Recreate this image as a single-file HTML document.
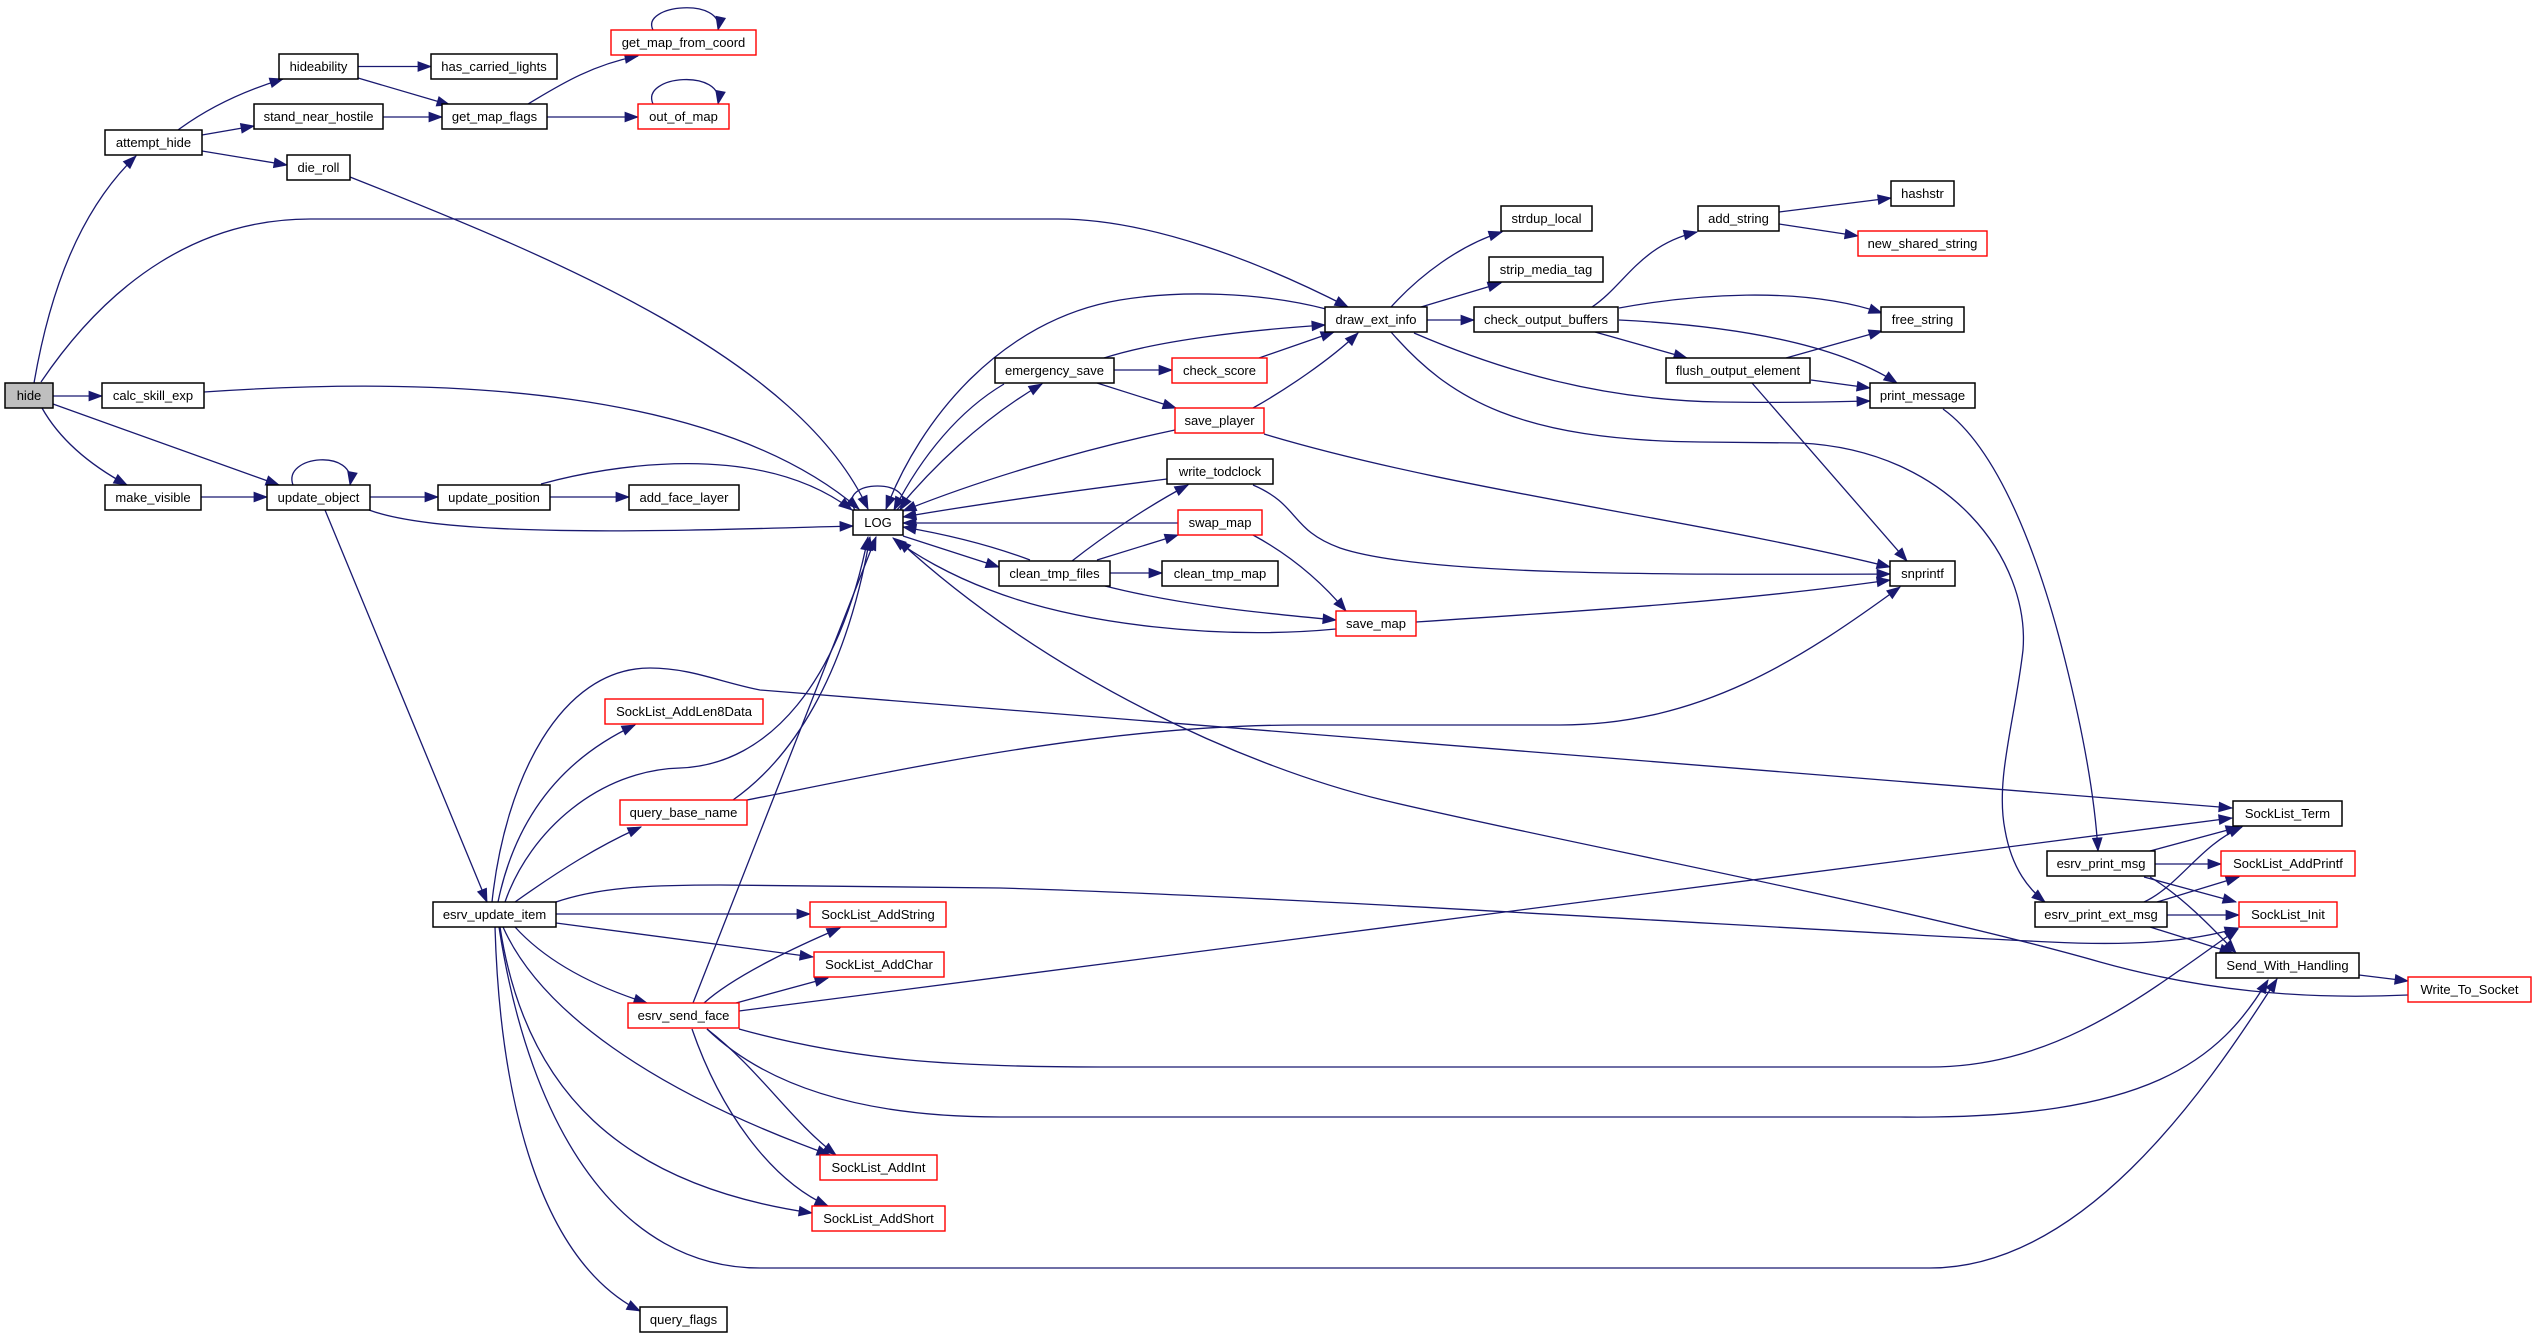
<!DOCTYPE html>
<html>
<head>
<meta charset="utf-8">
<style>
html,body{margin:0;padding:0;background:#fff;}
svg{display:block;}
text{font-family:"Liberation Sans",Arial,sans-serif;font-size:13px;fill:#000;text-anchor:middle;}
.e path{fill:none;stroke:#191970;stroke-width:1.3;}
.n rect{fill:#fff;stroke:#000;stroke-width:1.5;}
.n rect.r{stroke:#ff0000;stroke-width:1.4;}
.n rect.g{fill:#bfbfbf;}
</style>
</head>
<body>
<svg width="2536" height="1339" viewBox="0 0 2536 1339" xmlns="http://www.w3.org/2000/svg">
<defs>
<marker id="a" markerUnits="userSpaceOnUse" markerWidth="14" markerHeight="11" refX="13" refY="5" orient="auto" overflow="visible">
<path d="M0,0.2 L13,5 L0,9.8 z" fill="#191970" stroke="#191970" stroke-width="0.8"/>
</marker>
</defs>
<rect x="0" y="0" width="2536" height="1339" fill="#fff"/>
<g class="e" marker-end="url(#a)">
<path marker-end="url(#a)" d="M34,383 C50,290 80,210 136,156"/>
<path marker-end="url(#a)" d="M41,382 C110,280 200,219 310,219 L1058,219 C1150,219 1260,262 1348,307"/>
<path marker-end="url(#a)" d="M53,396 L102,396"/>
<path marker-end="url(#a)" d="M42,408 C60,440 90,465 127,485"/>
<path marker-end="url(#a)" d="M53,404 L279,485"/>
<path marker-end="url(#a)" d="M178,130 C205,110 240,92 283,79"/>
<path marker-end="url(#a)" d="M202,135 L254,126"/>
<path marker-end="url(#a)" d="M202,151 L287,165"/>
<path marker-end="url(#a)" d="M358,66.5 L431,66.5"/>
<path marker-end="url(#a)" d="M358,78 L450,105"/>
<path marker-end="url(#a)" d="M383,117 L442,117"/>
<path marker-end="url(#a)" d="M528,104 C555,88 590,65 638,56"/>
<path marker-end="url(#a)" d="M547,117 L638,117"/>
<path marker-end="url(#a)" d="M653,30 C640,4 725,-3 718,30"/>
<path marker-end="url(#a)" d="M653,104 C640,75 725,68 718,104"/>
<path marker-end="url(#a)" d="M350,177 C560,260 800,360 868,509"/>
<path marker-end="url(#a)" d="M204,392 C450,375 720,390 859,509"/>
<path marker-end="url(#a)" d="M201,497 L267,497"/>
<path marker-end="url(#a)" d="M293,485 C282,455 357,448 350,485"/>
<path marker-end="url(#a)" d="M370,497 L438,497"/>
<path marker-end="url(#a)" d="M369,510 C450,540 700,530 853,526"/>
<path marker-end="url(#a)" d="M325,510 L487,902"/>
<path marker-end="url(#a)" d="M550,497 L629,497"/>
<path marker-end="url(#a)" d="M541,484 C610,465 760,440 852,510"/>
<path marker-end="url(#a)" d="M855,510 C835,478 920,478 900,510"/>
<path marker-end="url(#a)" d="M897,510 C930,470 980,420 1042,384"/>
<path marker-end="url(#a)" d="M1004,384 C960,410 922,455 894,510"/>
<path marker-end="url(#a)" d="M1326,309 C1260,292 1180,290 1120,300 C1000,320 920,420 886,509"/>
<path marker-end="url(#a)" d="M1104,358 C1160,340 1250,330 1325,325"/>
<path marker-end="url(#a)" d="M1114,370 L1172,370"/>
<path marker-end="url(#a)" d="M1097,383 L1176,408"/>
<path marker-end="url(#a)" d="M1259,358 L1334,332"/>
<path marker-end="url(#a)" d="M1253,408 C1285,390 1330,360 1358,333"/>
<path marker-end="url(#a)" d="M1175,430 C1080,450 980,480 903,511"/>
<path marker-end="url(#a)" d="M1264,434 C1450,490 1700,520 1890,567"/>
<path marker-end="url(#a)" d="M1391,307 C1420,275 1460,245 1502,232"/>
<path marker-end="url(#a)" d="M1421,307 L1501,283"/>
<path marker-end="url(#a)" d="M1427,320 L1474,320"/>
<path marker-end="url(#a)" d="M1414,333 C1500,370 1600,400 1720,402 C1780,403 1830,402 1870,401"/>
<path marker-end="url(#a)" d="M1391,332 C1450,400 1520,440 1700,442 L1800,443 C1950,450 2030,560 2023,650 C2015,720 1995,780 2005,830 C2012,870 2030,890 2045,902"/>
<path marker-end="url(#a)" d="M1592,307 C1625,285 1640,245 1697,232"/>
<path marker-end="url(#a)" d="M1619,308 C1690,295 1800,285 1882,313"/>
<path marker-end="url(#a)" d="M1619,320 C1720,325 1830,340 1897,383"/>
<path marker-end="url(#a)" d="M1595,332 L1687,358"/>
<path marker-end="url(#a)" d="M1779,212 L1891,198"/>
<path marker-end="url(#a)" d="M1779,224 L1858,236"/>
<path marker-end="url(#a)" d="M1786,358 L1882,331"/>
<path marker-end="url(#a)" d="M1811,380 L1870,388"/>
<path marker-end="url(#a)" d="M1752,383 L1907,561"/>
<path marker-end="url(#a)" d="M1943,409 C2000,450 2040,560 2065,660 C2085,740 2095,800 2098,851"/>
<path marker-end="url(#a)" d="M1167,479 C1080,490 990,502 903,517"/>
<path marker-end="url(#a)" d="M1253,485 C1300,505 1290,530 1340,548 C1420,575 1650,575 1890,574"/>
<path marker-end="url(#a)" d="M1178,523 L903,523"/>
<path marker-end="url(#a)" d="M1253,535 C1290,555 1320,580 1346,611"/>
<path marker-end="url(#a)" d="M1030,560 C990,545 950,535 903,527"/>
<path marker-end="url(#a)" d="M903,536 L999,567"/>
<path marker-end="url(#a)" d="M1072,561 C1105,535 1150,505 1188,485"/>
<path marker-end="url(#a)" d="M1097,560 L1178,535"/>
<path marker-end="url(#a)" d="M1110,573 L1162,573"/>
<path marker-end="url(#a)" d="M1105,586 C1180,605 1260,613 1336,620"/>
<path marker-end="url(#a)" d="M1336,629 C1220,640 1080,625 990,590 C950,575 915,555 893,538"/>
<path marker-end="url(#a)" d="M1416,622 C1600,610 1750,600 1890,580"/>
<path marker-end="url(#a)" d="M693,1003 L876,537"/>
<path marker-end="url(#a)" d="M733,800 C790,760 845,680 870,537"/>
<path marker-end="url(#a)" d="M505,902 C530,830 600,770 680,768 C770,765 840,680 868,537"/>
<path marker-end="url(#a)" d="M498,902 C515,820 560,760 635,725"/>
<path marker-end="url(#a)" d="M515,902 C560,870 600,845 641,827"/>
<path marker-end="url(#a)" d="M492,902 C505,780 560,668 650,668 C690,668 720,682 760,690 L2232,808"/>
<path marker-end="url(#a)" d="M556,914 L810,914"/>
<path marker-end="url(#a)" d="M556,923 L813,957"/>
<path marker-end="url(#a)" d="M515,927 C545,960 590,985 647,1003"/>
<path marker-end="url(#a)" d="M503,927 C540,1010 650,1090 830,1155"/>
<path marker-end="url(#a)" d="M500,927 C525,1090 620,1185 812,1213"/>
<path marker-end="url(#a)" d="M495,927 C500,1100 540,1260 640,1311"/>
<path marker-end="url(#a)" d="M556,902 C600,887 650,885 720,885 L1000,888 C1300,897 1800,930 2050,942 C2130,946 2190,942 2238,928"/>
<path marker-end="url(#a)" d="M499,927 C530,1130 620,1268 760,1268 L1930,1268 C2080,1268 2200,1100 2277,979"/>
<path marker-end="url(#a)" d="M747,800 C900,770 1100,725 1300,725 L1560,725 C1700,725 1800,660 1900,587"/>
<path marker-end="url(#a)" d="M704,1003 C735,975 800,945 840,928"/>
<path marker-end="url(#a)" d="M736,1003 L828,978"/>
<path marker-end="url(#a)" d="M707,1029 C760,1070 790,1120 836,1155"/>
<path marker-end="url(#a)" d="M692,1029 C720,1110 770,1180 828,1206"/>
<path marker-end="url(#a)" d="M739,1011 C1000,980 1600,895 2232,818"/>
<path marker-end="url(#a)" d="M739,1029 C850,1060 950,1067 1100,1067 L1930,1067 C2060,1067 2150,990 2238,929"/>
<path marker-end="url(#a)" d="M707,1029 C760,1080 850,1117 1000,1117 L1900,1117 C2150,1120 2220,1060 2268,980"/>
<path marker-end="url(#a)" d="M2150,851 L2239,827"/>
<path marker-end="url(#a)" d="M2155,864 L2221,864"/>
<path marker-end="url(#a)" d="M2144,877 L2236,902"/>
<path marker-end="url(#a)" d="M2150,877 C2180,895 2210,925 2236,953"/>
<path marker-end="url(#a)" d="M2144,902 C2180,885 2200,845 2242,827"/>
<path marker-end="url(#a)" d="M2157,902 L2239,877"/>
<path marker-end="url(#a)" d="M2167,915 L2239,915"/>
<path marker-end="url(#a)" d="M2150,927 L2233,953"/>
<path marker-end="url(#a)" d="M2359,975 L2408,981"/>
<path marker-end="url(#a)" d="M2408,995 C2300,1000 2200,990 2100,962 C1900,905 1550,840 1383,800 C1250,768 1050,680 898,540"/>
</g>
<g class="n">
<rect class="g" x="5" y="383" width="48" height="25"/><text x="29" y="400">hide</text>
<rect x="102" y="383" width="102" height="25"/><text x="153" y="400">calc_skill_exp</text>
<rect x="105" y="485" width="96" height="25"/><text x="153" y="502">make_visible</text>
<rect x="267" y="485" width="103" height="25"/><text x="318.5" y="502">update_object</text>
<rect x="438" y="485" width="112" height="25"/><text x="494" y="502">update_position</text>
<rect x="629" y="485" width="110" height="25"/><text x="684" y="502">add_face_layer</text>
<rect x="105" y="130" width="97" height="25"/><text x="153.5" y="147">attempt_hide</text>
<rect x="279" y="54" width="79" height="25"/><text x="318.5" y="71">hideability</text>
<rect x="431" y="54" width="126" height="25"/><text x="494" y="71">has_carried_lights</text>
<rect x="254" y="104" width="129" height="25"/><text x="318.5" y="121">stand_near_hostile</text>
<rect x="442" y="104" width="105" height="25"/><text x="494.5" y="121">get_map_flags</text>
<rect class="r" x="638" y="104" width="91" height="25"/><text x="683.5" y="121">out_of_map</text>
<rect class="r" x="611" y="30" width="145" height="25"/><text x="683.5" y="47">get_map_from_coord</text>
<rect x="287" y="155" width="63" height="25"/><text x="318.5" y="172">die_roll</text>
<rect x="853" y="510" width="50" height="25"/><text x="878" y="527">LOG</text>
<rect x="1325" y="307" width="102" height="25"/><text x="1376" y="324">draw_ext_info</text>
<rect x="1501" y="206" width="91" height="25"/><text x="1546.5" y="223">strdup_local</text>
<rect x="1489" y="257" width="114" height="25"/><text x="1546" y="274">strip_media_tag</text>
<rect x="1474" y="307" width="144" height="25"/><text x="1546" y="324">check_output_buffers</text>
<rect x="995" y="358" width="119" height="25"/><text x="1054.5" y="375">emergency_save</text>
<rect class="r" x="1172" y="358" width="95" height="25"/><text x="1219.5" y="375">check_score</text>
<rect class="r" x="1175" y="408" width="89" height="25"/><text x="1219.5" y="425">save_player</text>
<rect x="1698" y="206" width="81" height="25"/><text x="1738.5" y="223">add_string</text>
<rect x="1891" y="181" width="63" height="25"/><text x="1922.5" y="198">hashstr</text>
<rect class="r" x="1858" y="231" width="129" height="25"/><text x="1922.5" y="248">new_shared_string</text>
<rect x="1881" y="307" width="83" height="25"/><text x="1922.5" y="324">free_string</text>
<rect x="1666" y="358" width="144" height="25"/><text x="1738" y="375">flush_output_element</text>
<rect x="1870" y="383" width="105" height="25"/><text x="1922.5" y="400">print_message</text>
<rect x="1890" y="561" width="65" height="25"/><text x="1922.5" y="578">snprintf</text>
<rect x="1167" y="459" width="106" height="25"/><text x="1220" y="476">write_todclock</text>
<rect class="r" x="1178" y="510" width="84" height="25"/><text x="1220" y="527">swap_map</text>
<rect x="999" y="561" width="111" height="25"/><text x="1054.5" y="578">clean_tmp_files</text>
<rect x="1162" y="561" width="116" height="25"/><text x="1220" y="578">clean_tmp_map</text>
<rect class="r" x="1336" y="611" width="80" height="25"/><text x="1376" y="628">save_map</text>
<rect class="r" x="605" y="699" width="158" height="25"/><text x="684" y="716">SockList_AddLen8Data</text>
<rect class="r" x="620" y="800" width="127" height="25"/><text x="683.5" y="817">query_base_name</text>
<rect x="433" y="902" width="123" height="25"/><text x="494.5" y="919">esrv_update_item</text>
<rect class="r" x="810" y="902" width="136" height="25"/><text x="878" y="919">SockList_AddString</text>
<rect class="r" x="814" y="952" width="130" height="25"/><text x="879" y="969">SockList_AddChar</text>
<rect class="r" x="628" y="1003" width="111" height="25"/><text x="683.5" y="1020">esrv_send_face</text>
<rect class="r" x="820" y="1155" width="117" height="25"/><text x="878.5" y="1172">SockList_AddInt</text>
<rect class="r" x="812" y="1206" width="133" height="25"/><text x="878.5" y="1223">SockList_AddShort</text>
<rect x="640" y="1307" width="87" height="25"/><text x="683.5" y="1324">query_flags</text>
<rect x="2233" y="801" width="109" height="25"/><text x="2287.5" y="818">SockList_Term</text>
<rect x="2047" y="851" width="108" height="25"/><text x="2101" y="868">esrv_print_msg</text>
<rect class="r" x="2221" y="851" width="134" height="25"/><text x="2288" y="868">SockList_AddPrintf</text>
<rect x="2035" y="902" width="132" height="25"/><text x="2101" y="919">esrv_print_ext_msg</text>
<rect class="r" x="2239" y="902" width="98" height="25"/><text x="2288" y="919">SockList_Init</text>
<rect x="2216" y="953" width="143" height="25"/><text x="2287.5" y="970">Send_With_Handling</text>
<rect class="r" x="2408" y="977" width="123" height="25"/><text x="2469.5" y="994">Write_To_Socket</text>
</g>
</svg>
</body>
</html>
